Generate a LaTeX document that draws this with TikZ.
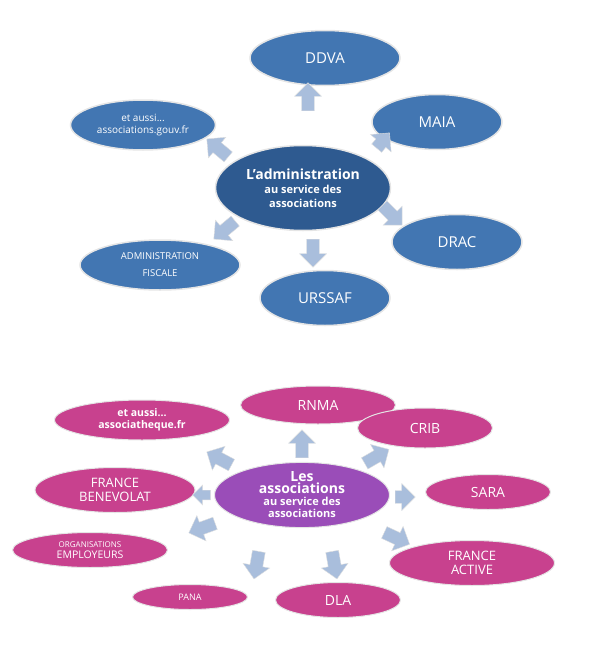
\documentclass[tikz,border=0pt]{standalone}
\usepackage{fontspec}
\setmainfont{Open Sans}
\usetikzlibrary{shapes.arrows,shapes.geometric}
\definecolor{bl}{HTML}{4276B2}
\definecolor{bld}{HTML}{2E5A90}
\definecolor{pk}{HTML}{C8418E}
\definecolor{pu}{HTML}{9A4DB8}
\definecolor{ar}{HTML}{A9BEDC}
\tikzset{
 be/.style 2 args={ellipse,draw=white!80!gray,line width=1.5pt,fill=bl,text=white,align=center,inner sep=0pt,minimum width=#1,minimum height=#2},
 pe/.style 2 args={ellipse,draw=white!80!gray,line width=1pt,fill=pk,text=white,align=center,inner sep=0pt,minimum width=#1,minimum height=#2,font=\bfseries},
 ba/.style={single arrow,draw=white!75!gray,fill=ar,minimum height=28pt,minimum width=27pt,single arrow head extend=4pt,inner sep=3.5pt,rotate=#1},
}
\begin{document}
\begin{tikzpicture}[x=1pt,y=-1pt]
\useasboundingbox (0,0) rectangle (613,645);
% top
\node[be={150pt}{55pt},font=\fontsize{15}{15}\selectfont] (ddva) at (325,58) {DDVA};
\node[be={130pt}{55pt},font=\fontsize{15}{15}\selectfont] (maia) at (437,122) {MAIA};
\node[be={145pt}{50pt},font=\fontsize{10}{12}\selectfont] (aussi) at (143,125) {et aussi...\\associations.gouv.fr};
\node[be={175pt}{85pt},fill=bld,font=\fontsize{11}{14}\selectfont\bfseries] (adm) at (303,188) {{\fontsize{14}{16}\selectfont L'administration}\\au service des\\associations};
\node[be={130pt}{55pt},font=\fontsize{15}{15}\selectfont] (drac) at (457,242) {DRAC};
\node[be={160pt}{50pt},font=\fontsize{9.5}{17}\selectfont] (fisc) at (160,265) {ADMINISTRATION\\FISCALE};
\node[be={130pt}{55pt},font=\fontsize{15}{15}\selectfont] (urssaf) at (325,298) {URSSAF};
\node[ba=90] (a1) at (308,100) {};
\node[ba=50,minimum height=20pt] (a2) at (381,143) {};
\node[ba=140] (a3) at (220,150) {};
\node[ba=-45] (a4) at (390,213) {};
\node[ba=-140] (a5) at (227,228) {};
\node[ba=-90] (a6) at (313,250) {};
% bottom
\node[pe={155pt}{38pt},font=\fontsize{14}{14}\selectfont\mdseries] (rnma) at (318,405) {RNMA};
\node[pe={175pt}{40pt},font=\fontsize{10.5}{12.5}\selectfont\bfseries] (assoc) at (142,420) {et aussi...\\associatheque.fr};
\node[pe={135pt}{40pt},font=\fontsize{14}{14}\selectfont\mdseries] (crib) at (425,428) {CRIB};
\node[pe={160pt}{45pt},font=\fontsize{13}{14}\selectfont\mdseries] (fb) at (115,490) {FRANCE\\BENEVOLAT};
\node[pe={175pt}{65pt},fill=pu,font=\fontsize{11}{12}\selectfont\bfseries] (les) at (302,495) {{\fontsize{14}{15}\selectfont Les}\\{\fontsize{14}{15}\selectfont associations}\\au service des\\associations};
\node[pe={125pt}{35pt},font=\fontsize{14}{14}\selectfont\mdseries] (sara) at (488,492) {SARA};
\node[pe={155pt}{35pt},font=\fontsize{8}{11}\selectfont\mdseries] (org) at (90,550) {ORGANISATIONS\\{\fontsize{10.5}{11}\selectfont EMPLOYEURS}};
\node[pe={165pt}{45pt},font=\fontsize{13}{14}\selectfont\mdseries] (fa) at (472,563) {FRANCE\\ACTIVE};
\node[pe={115pt}{25pt},font=\fontsize{9}{10}\selectfont\mdseries] (pana) at (190,597) {PANA};
\node[pe={125pt}{35pt},font=\fontsize{14}{14}\selectfont\mdseries] (dla) at (338,600) {DLA};
\node[ba=90] (b1) at (302,447) {};
\node[ba=152] (b2) at (222,460) {};
\node[ba=30] (b3) at (374,458) {};
\node[ba=180,minimum height=18pt,minimum width=20pt] (b4) at (204,495) {};
\node[ba=0,minimum height=20pt] (b5) at (402,497) {};
\node[ba=200] (b6) at (205,527) {};
\node[ba=-25] (b7) at (394,537) {};
\node[ba=-100] (b8) at (257,562) {};
\node[ba=-80] (b9) at (334,562) {};
\end{tikzpicture}
\end{document}
